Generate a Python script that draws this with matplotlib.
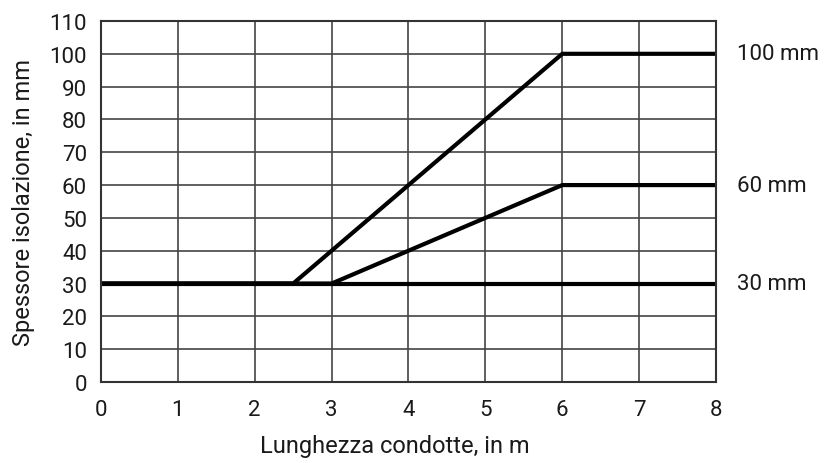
import matplotlib
matplotlib.use("Agg")
import matplotlib.pyplot as plt

# Data
x_30 = [0, 8]
y_30 = [30, 30]
x_60 = [0, 3, 6, 8]
y_60 = [30, 30, 60, 60]
x_100 = [0, 2.5, 6, 8]
y_100 = [30, 30, 100, 100]
end_labels = ["100 mm", "60 mm", "30 mm"]
end_values = [100, 60, 30]

x_ticks = list(range(0, 9))
y_ticks = list(range(0, 111, 10))

plt.rcParams['font.family'] = ['Roboto', 'DejaVu Sans']

fig = plt.figure(figsize=(8.29, 4.64), dpi=100)
ax = fig.add_axes([0.1218, 0.1746, 0.7419, 0.778])

ax.set_xlim(0, 8)
ax.set_ylim(0, 110)
ax.set_xticks(x_ticks)
ax.set_yticks(y_ticks)
ax.grid(True, color='#444444', linewidth=1.2)
ax.set_axisbelow(True)

for xs, ys in [(x_30, y_30), (x_60, y_60), (x_100, y_100)]:
    ax.plot(xs, ys, color='black', linewidth=3, solid_capstyle='butt', clip_on=False)

for lab, v in zip(end_labels, end_values):
    ax.annotate(lab, xy=(8, v), xytext=(15, 0), textcoords='offset points',
                ha='left', va='center', fontsize=16, color='#1a1a1a')

for s in ax.spines.values():
    s.set_color('#333333')
    s.set_linewidth(1.5)

ax.tick_params(axis='both', length=0, labelsize=16, colors='#1a1a1a')
ax.tick_params(axis='y', pad=10)
ax.tick_params(axis='x', pad=12)

ax.set_xlabel("Lunghezza condotte, in m", fontsize=17, color='#1a1a1a')
ax.set_ylabel("Spessore isolazione, in mm", fontsize=17, color='#1a1a1a')
ax.xaxis.set_label_coords(0.478, -0.145)
ax.yaxis.set_label_coords(-0.108, 0.5)

fig.savefig("out.png", dpi=100)
